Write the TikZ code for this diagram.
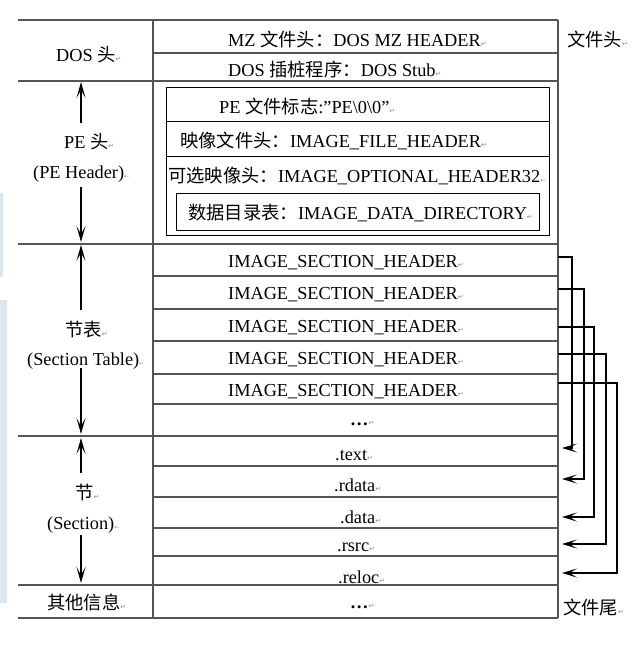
\documentclass[tikz,border=0pt]{standalone}
\usepackage{fontspec}
\setmainfont{Liberation Serif}
\newfontfamily\cjk{Noto Sans CJK SC}
\newfontfamily\symf{DejaVu Sans}
\usetikzlibrary{arrows.meta}
\newcommand\pmk{{\symf\fontsize{7}{7}\selectfont\color{black!45}↵}}
\newcommand\lmk{{\symf\fontsize{6}{6}\selectfont\color{black!45}←}}
\definecolor{tline}{RGB}{85,85,85}
\definecolor{strip}{RGB}{222,230,243}
\begin{document}
\begin{tikzpicture}[x=1pt,y=-1pt,
  font=\fontsize{18.3}{20}\selectfont,
  tl/.style={draw=tline,line width=1.2pt},
  il/.style={draw=black,line width=0.9pt},
  txt/.style={inner sep=0pt,anchor=west,yshift=-2pt},
  vtip/.style={-{Stealth[length=16pt,width=9pt,inset=8pt]},line width=1.2pt},
  htip/.style={-{Stealth[length=15pt,width=9pt,inset=7.5pt]},line width=1.2pt}]
\useasboundingbox (0,0) rectangle (638,646);
% screenshot side strips
\fill[strip] (0,193) rectangle (3,277);
\fill[strip] (0,300) rectangle (7,603);
% table lines
\foreach \y in {20,81,244,436,585,618} \draw[tl] (18,\y) -- (558,\y);
\foreach \y in {53,276,309,341,374,404,466,497,528,556} \draw[tl] (153,\y) -- (558,\y);
\draw[tl] (153,20) -- (153,618);
\draw[tl] (558,20) -- (558,618);
% PE inner box
\draw[il] (166,87) rectangle (549,235);
\draw[il] (166,121) -- (549,121);
\draw[il] (166,156) -- (549,156);
\draw[il] (176,193) rectangle (539,230);
% right column texts
\node[txt] (mz) at (228,37) {MZ {\cjk 文件头：}DOS MZ HEADER\pmk};
\node[txt] (stub) at (228,68) {DOS {\cjk 插桩程序：}DOS Stub\pmk};
\node[txt] (sig) at (219,104) {PE {\cjk 文件标志}:”PE\textbackslash0\textbackslash0”\pmk};
\node[txt] (fh) at (180,139) {{\cjk 映像文件头：}IMAGE\_FILE\_HEADER\pmk};
\node[txt] (oh) at (168,174) {{\cjk 可选映像头：}IMAGE\_OPTIONAL\_HEADER32\lmk};
\node[txt] (dd) at (188,211) {{\cjk 数据目录表：}IMAGE\_DATA\_DIRECTORY\pmk};
\node[txt] (sh1) at (228,261) {IMAGE\_SECTION\_HEADER\pmk};
\node[txt] (sh2) at (228,293) {IMAGE\_SECTION\_HEADER\pmk};
\node[txt] (sh3) at (228,326) {IMAGE\_SECTION\_HEADER\pmk};
\node[txt] (sh4) at (228,358) {IMAGE\_SECTION\_HEADER\pmk};
\node[txt] (sh5) at (228,390) {IMAGE\_SECTION\_HEADER\pmk};
\node[txt] (shd) at (350,421) {\textbf{…}\pmk};
\node[txt] (stext) at (335,453) {.text\pmk};
\node[txt] (srdata) at (334,483) {.rdata\pmk};
\node[txt] (sdata) at (340,515) {.data\pmk};
\node[txt] (srsrc) at (337,545) {.rsrc\pmk};
\node[txt] (sreloc) at (338,575) {.reloc\pmk};
\node[txt] (sdots) at (350,604) {\textbf{…}\pmk};
% left column labels
\node[txt] (dosl) at (56,53) {DOS {\cjk 头}\pmk};
\node[txt] (pel1) at (64,140) {PE {\cjk 头}\pmk};
\node[txt] (pel2) at (33,172) {(PE Header)\lmk};
\node[txt] (stl1) at (65,328) {{\cjk 节表}\pmk};
\node[txt] (stl2) at (27,359) {(Section Table)\lmk};
\node[txt] (sel1) at (75,491) {{\cjk 节}\pmk};
\node[txt] (sel2) at (47,523) {(Section)\lmk};
\node[txt] (oth) at (47,600) {{\cjk 其他信息}\pmk};
% right labels
\node[txt] (fhead) at (567,37) {{\cjk 文件头}\pmk};
\node[txt] (ftail) at (563,605) {{\cjk 文件尾}\pmk};
% left arrows
\coordinate (a1t) at (81,82);   \coordinate (a1s) at (81,123);
\coordinate (a2s) at (81,187);  \coordinate (a2t) at (81,242);
\coordinate (a3t) at (81,245);  \coordinate (a3s) at (81,310);
\coordinate (a4s) at (81,368);  \coordinate (a4t) at (81,434);
\coordinate (a5t) at (81,438);  \coordinate (a5s) at (81,473);
\coordinate (a6s) at (81,535);  \coordinate (a6t) at (81,583);
\draw[vtip] (a1s) -- (a1t);
\draw[vtip] (a2s) -- (a2t);
\draw[vtip] (a3s) -- (a3t);
\draw[vtip] (a4s) -- (a4t);
\draw[vtip] (a5s) -- (a5t);
\draw[vtip] (a6s) -- (a6t);
% right connectors
\coordinate (h1) at (558,257); \coordinate (t1) at (562,448);
\coordinate (h2) at (558,289); \coordinate (t2) at (562,479);
\coordinate (h3) at (558,327); \coordinate (t3) at (562,517);
\coordinate (h4) at (558,354); \coordinate (t4) at (562,544);
\coordinate (h5) at (558,383); \coordinate (t5) at (562,573);
\draw[htip] (h1) -- ++(14,0) |- (t1);
\draw[htip] (h2) -- ++(26,0) |- (t2);
\draw[htip] (h3) -- ++(36,0) |- (t3);
\draw[htip] (h4) -- ++(48,0) |- (t4);
\draw[htip] (h5) -- ++(59,0) |- (t5);
\end{tikzpicture}
\end{document}
